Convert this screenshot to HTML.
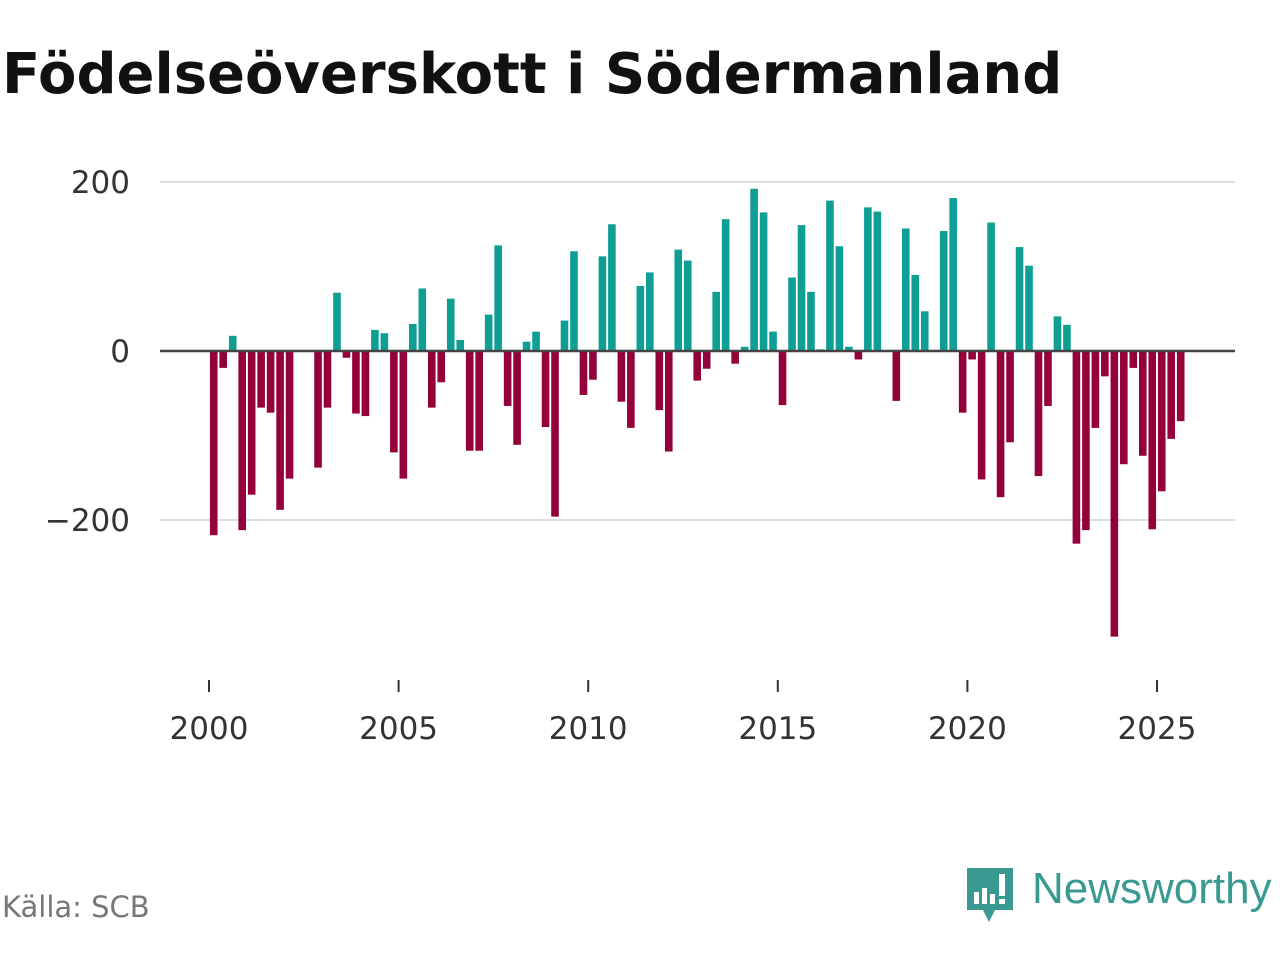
<!DOCTYPE html>
<html><head><meta charset="utf-8">
<style>
body{margin:0;width:1280px;height:960px;background:#fff;font-family:"DejaVu Sans",sans-serif;overflow:hidden;position:relative}
#title{position:absolute;left:2px;top:42px;font-size:56px;font-weight:bold;color:#111;margin:0;letter-spacing:0px;white-space:nowrap}
#source{position:absolute;left:2px;top:890px;font-size:29px;color:#777}
#logo{position:absolute;left:965px;top:866px}
</style></head><body>
<h1 id="title">Födelseöverskott i Södermanland</h1>
<svg id="chart" width="1280" height="960" style="position:absolute;left:0;top:0"></svg>
<div id="source">Källa: SCB</div>
<svg id="logo" width="315" height="65">
<path d="M2 2h46v42H30l-6 12-6-12H2z" fill="#3a9a92"/>
<rect x="9" y="26" width="5" height="12" fill="#fff"/><rect x="17" y="22" width="5" height="16" fill="#fff"/><rect x="25" y="28" width="5" height="10" fill="#fff"/><rect x="34" y="8" width="6" height="22" fill="#fff"/><rect x="34" y="33" width="6" height="5" fill="#fff"/>
<text x="67" y="37" font-family="Liberation Sans, sans-serif" font-size="44" fill="#3a9a92">Newsworthy</text>
</svg>
<script>
const values=[-218,-20,18,-212,-170,-67,-73,-188,-151,0,0,
-138,-67,69,-8,-74,-77,25,21,-120,-151,
32,74,-67,-37,62,13,-118,-118,43,125,
-65,-111,11,23,-90,-196,36,118,-52,-34,
112,150,-60,-91,77,93,-70,-119,120,107,
-35,-21,70,156,-15,5,192,164,23,-64,
87,149,70,2,178,124,5,-10,170,165,
0,-59,145,90,47,0,142,181,-73,-10,
-152,152,-173,-108,123,101,-148,-65,41,31,
-228,-212,-91,-30,-338,-134,-20,-124,-211,-166,
-104,-83];
const yTicks=[200,0,-200];
const yTickLabels=["200","0","\u2212200"];
const xYears=[2000,2005,2010,2015,2020,2025];
const startYear=2000;
const svg=document.getElementById('chart');
const NS='http://www.w3.org/2000/svg';
const x=t=>209+(t-2000)*37.92;
const y=v=>351-v*0.845;
function mk(tag,attrs){const e=document.createElementNS(NS,tag);for(const k in attrs)e.setAttribute(k,attrs[k]);svg.appendChild(e);return e;}
yTicks.forEach((v,i)=>{
 if(v!==0){const g=mk('line',{x1:160,x2:1235,y1:y(v),y2:y(v),stroke:'#ddd','stroke-width':2});
 
 }
 const t=mk('text',{x:130,y:y(v)+11,'text-anchor':'end','font-size':31,fill:'#333','font-family':'DejaVu Sans, sans-serif'});
 t.textContent=yTickLabels[i];
 
 
});
values.forEach((v,i)=>{
 const cx=x(startYear+i*0.25+0.125);
 const r=mk('rect',{x:cx-3.8,width:7.6,y:v>=0?y(v):y(0),height:Math.abs(y(v)-y(0)),fill:v>=0?'#0e9e94':'#93003a'});
 
 
});
const z=mk('line',{x1:160,x2:1235,y1:y(0),y2:y(0),stroke:'#444','stroke-width':2.5});


xYears.forEach(yr=>{
 const tk=mk('line',{x1:x(yr),x2:x(yr),y1:680,y2:692,stroke:'#333','stroke-width':2});
 
 
 const t=mk('text',{x:x(yr),y:739,'text-anchor':'middle','font-size':31,fill:'#333','font-family':'DejaVu Sans, sans-serif'});
 t.textContent=yr;
 
 
});
</script>
</body></html>
